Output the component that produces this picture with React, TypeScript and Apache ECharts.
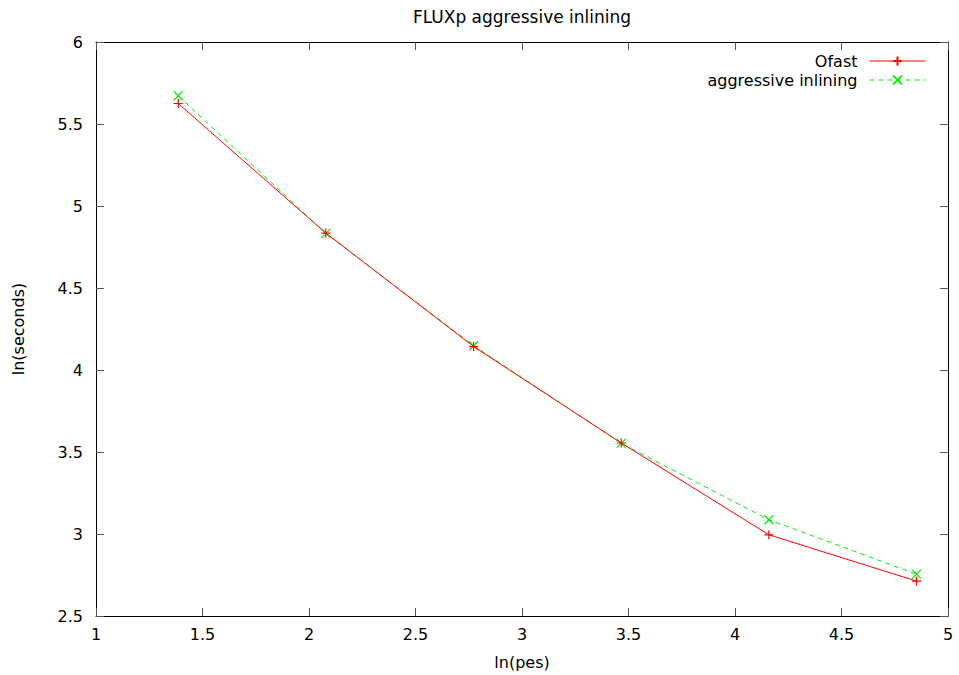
import React, { useEffect, useRef } from "react";
import * as echarts from "echarts";

const lnPes = [1.386, 2.079, 2.773, 3.466, 4.159, 4.852];
const ofast = [5.625, 4.835, 4.143, 3.555, 2.995, 2.713];
const aggressive = [5.672, 4.833, 4.148, 3.553, 3.087, 2.755];
const xTicks = { min: 1, max: 5, interval: 0.5 };
const yTicks = { min: 2.5, max: 6, interval: 0.5 };

const FONT = "'DejaVu Sans', 'Liberation Sans', Arial, sans-serif";
const plusPath = "path://M0,5L10,5M5,0L5,10";
const crossPath = "path://M0,0L10,10M10,0L0,10";

export default function App() {
  const ref = useRef<HTMLDivElement>(null);
  useEffect(() => {
    if (!ref.current) return;
    const chart = echarts.init(ref.current, undefined, { renderer: "svg" });
    const tickStyle = { show: true, inside: true, length: 8, lineStyle: { color: "#555", width: 1 } };
    const lineAx = { show: true, lineStyle: { color: "#000", width: 1 } };
    const label = { color: "#000", fontSize: 16, fontFamily: FONT };
    chart.setOption({
      animation: false,
      backgroundColor: "#fff",
      title: {
        text: "FLUXp aggressive inlining",
        left: 517,
        textAlign: "center",
        top: 3,
        textStyle: { color: "#000", fontSize: 17, fontWeight: "normal", fontFamily: FONT },
      },
      legend: {
        orient: "vertical",
        right: 28,
        top: 48,
        align: "right",
        itemWidth: 56,
        itemHeight: 11,
        itemGap: 3,
        lineStyle: { width: 1 },
        textStyle: { color: "#000", fontSize: 16, fontFamily: FONT, padding: [0, 7, 0, 0] },
        data: ["Ofast", "aggressive inlining"],
      },
      grid: { left: 96, right: 11, top: 42, bottom: 59, containLabel: false },
      xAxis: [
        {
          type: "value",
          min: xTicks.min,
          max: xTicks.max,
          interval: xTicks.interval,
          name: "ln(pes)",
          nameLocation: "middle",
          nameGap: 38,
          nameTextStyle: label,
          axisLine: lineAx,
          axisTick: tickStyle,
          axisLabel: { ...label, margin: 10 },
          splitLine: { show: false },
        },
        {
          type: "value",
          position: "top",
          min: xTicks.min,
          max: xTicks.max,
          interval: xTicks.interval,
          axisLine: lineAx,
          axisTick: tickStyle,
          axisLabel: { show: false },
          splitLine: { show: false },
        },
      ],
      yAxis: [
        {
          type: "value",
          min: yTicks.min,
          max: yTicks.max,
          interval: yTicks.interval,
          name: "ln(seconds)",
          nameLocation: "middle",
          nameGap: 70,
          nameTextStyle: label,
          axisLine: lineAx,
          axisTick: tickStyle,
          axisLabel: { ...label, margin: 13 },
          splitLine: { show: false },
        },
        {
          type: "value",
          position: "right",
          min: yTicks.min,
          max: yTicks.max,
          interval: yTicks.interval,
          axisLine: lineAx,
          axisTick: tickStyle,
          axisLabel: { show: false },
          splitLine: { show: false },
        },
      ],
      series: [
        {
          name: "Ofast",
          type: "line",
          data: lnPes.map((x, i) => [x, ofast[i]]),
          symbol: plusPath,
          symbolSize: 9,
          showAllSymbol: true,
          lineStyle: { color: "#ff0000", width: 1 },
          itemStyle: { color: "#ff0000", borderColor: "#ff0000", borderWidth: 1.2 },
          z: 3,
        },
        {
          name: "aggressive inlining",
          type: "line",
          data: lnPes.map((x, i) => [x, aggressive[i]]),
          symbol: crossPath,
          symbolSize: 9,
          showAllSymbol: true,
          lineStyle: { color: "#00ee00", width: 1, type: [5, 4] },
          itemStyle: { color: "#00ee00", borderColor: "#00ee00", borderWidth: 1.2 },
          z: 2,
        },
      ],
    });
    return () => chart.dispose();
  }, []);
  return <div ref={ref} style={{ width: 959, height: 675, position: "absolute", left: 0, top: 0 }} />;
}
